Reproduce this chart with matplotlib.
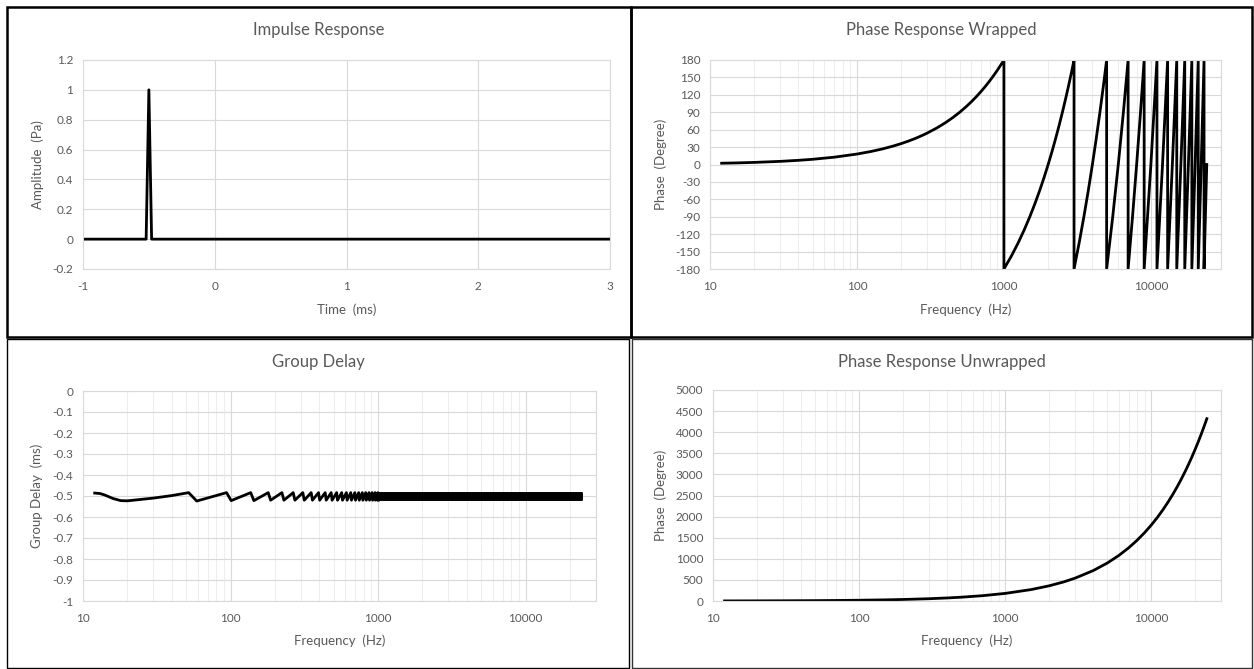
import matplotlib
matplotlib.use("Agg")
import matplotlib.pyplot as plt
from matplotlib.patches import Rectangle
from matplotlib.ticker import FixedLocator, NullFormatter, LogLocator, FuncFormatter

W, H = 1254, 669
DPI = 100

# ---------------- data ----------------
# Impulse response
ir_time = [-1.0, -0.5208, -0.5, -0.4792, 3.0]
ir_amp = [0.0, 0.0, 1.0, 0.0, 0.0]

# Phase response wrapped (frequency Hz, degrees)
pw_freq = [12, 15, 20, 30, 40, 50, 70, 100, 125, 150, 175, 200, 225, 250, 275, 300, 350, 400, 450,
           500, 550, 600, 650, 700, 750, 800, 850, 900, 950, 1000,
           1000, 1125, 1250, 1375, 1500, 1625, 1750, 1875, 2000, 2125, 2250, 2375, 2500, 2625,
           2750, 2875, 3000,
           3000, 3250, 3500, 3750, 4000, 4250, 4500, 4750, 5000,
           5000, 5500, 6000, 6500, 7000,
           7000, 7500, 8000, 8500, 9000,
           9000, 10000, 11000,
           11000, 12000, 13000,
           13000, 14000, 15000,
           15000, 16000, 17000,
           17000, 18000, 19000,
           19000, 20000, 21000,
           21000, 22000, 23000,
           23000, 24000]
pw_phase = [2.2, 2.7, 3.6, 5.4, 7.2, 9, 12.6, 18, 22.5, 27, 31.5, 36, 40.5, 45, 49.5, 54, 63, 72, 81,
            90, 99, 108, 117, 126, 135, 144, 153, 162, 171, 180,
            -180, -157.5, -135, -112.5, -90, -67.5, -45, -22.5, 0, 22.5, 45, 67.5, 90, 112.5,
            135, 157.5, 180,
            -180, -135, -90, -45, 0, 45, 90, 135, 180,
            -180, -90, 0, 90, 180,
            -180, -90, 0, 90, 180,
            -180, 0, 180,
            -180, 0, 180,
            -180, 0, 180,
            -180, 0, 180,
            -180, 0, 180,
            -180, 0, 180,
            -180, 0, 180,
            -180, 0]

# Phase response unwrapped
pu_freq = [12, 15, 20, 30, 40, 50, 70, 100, 150, 200, 300, 400, 500, 700, 1000, 1500, 2000, 2500,
           3000, 4000, 5000, 6000, 7000, 8000, 9000, 10000, 11000, 12000, 13000, 14000, 15000,
           16000, 17000, 18000, 19000, 20000, 21000, 22000, 23000, 24000]
pu_phase = [2.2, 2.7, 3.6, 5.4, 7.2, 9, 12.6, 18, 27, 36, 54, 72, 90, 126, 180, 270, 360, 450,
            540, 720, 900, 1080, 1260, 1440, 1620, 1800, 1980, 2160, 2340, 2520, 2700,
            2880, 3060, 3240, 3420, 3600, 3780, 3960, 4140, 4320]

# Group delay (ms): low-frequency part with visible zig-zag
gd_freq = [12, 13, 14, 16, 18, 20, 30, 40, 52,
           59, 94, 101, 137, 144, 180, 187, 223, 230, 266, 273, 309, 316, 352, 359,
           395, 402, 438, 445, 481, 488, 524, 531, 567, 574, 610, 617, 653, 660,
           696, 703, 739, 746, 782, 789, 825, 832, 868, 875, 911, 918, 954, 961, 997, 1004]
gd_delay = [-0.486, -0.488, -0.495, -0.512, -0.522, -0.523, -0.51, -0.498, -0.484,
            -0.524, -0.484, -0.522, -0.484, -0.522, -0.484, -0.52, -0.484, -0.52, -0.484, -0.52,
            -0.484, -0.52, -0.484, -0.52, -0.484, -0.52, -0.484, -0.52, -0.484, -0.52,
            -0.484, -0.52, -0.484, -0.52, -0.484, -0.52, -0.484, -0.52, -0.484, -0.52,
            -0.484, -0.52, -0.484, -0.52, -0.484, -0.52, -0.484, -0.52, -0.484, -0.52,
            -0.484, -0.52, -0.484, -0.52]
# Dense high-frequency zig-zag band (drawn as a band)
gd_band_freq = [950, 24000]
gd_band_top = [-0.486, -0.486]
gd_band_bottom = [-0.52, -0.52]

# ---------------- style ----------------
TXT = "#595959"
GRID = "#d9d9d9"
MINOR = "#eeeeee"
FONT = "Lato"
plt.rcParams["font.family"] = [FONT, "DejaVu Sans"]
plt.rcParams["axes.unicode_minus"] = False

fig = plt.figure(figsize=(W / DPI, H / DPI), dpi=DPI)
fig.patch.set_facecolor("white")


def fx(x):
    return x / W


def fy(y):
    return 1 - y / H


def make_ax(l, r, t, b):
    return fig.add_axes([fx(l), fy(b), fx(r) - fx(l), fy(t) - fy(b)])


def style(ax, title, xl, yl, panel, xlab_y, ylab_x, title_y):
    for s in ax.spines.values():
        s.set_color(GRID)
        s.set_linewidth(0.8)
    ax.tick_params(which="both", length=0, colors=TXT, labelsize=8.5)
    ax.tick_params(axis="x", pad=9)
    ax.tick_params(axis="y", pad=7)
    ax.set_axisbelow(True)
    pl, pr = panel
    bb = ax.get_position()
    fig.text(fx((pl + pr) / 2), fy(title_y), title, ha="center", va="center",
             fontsize=12, color=TXT)
    fig.text((bb.x0 + bb.x1) / 2, fy(xlab_y), xl, ha="center", va="center",
             fontsize=9.5, color=TXT)
    fig.text(fx(ylab_x), (bb.y0 + bb.y1) / 2, yl, ha="center", va="center",
             rotation=90, fontsize=9.5, color=TXT)


def log_axis(ax):
    ax.set_xscale("log")
    ax.set_xlim(10, 30000)
    ax.xaxis.set_major_locator(FixedLocator([10, 100, 1000, 10000]))
    ax.xaxis.set_major_formatter(FuncFormatter(lambda v, p: f"{int(round(v))}"))
    ax.xaxis.set_minor_locator(LogLocator(base=10, subs=range(2, 10), numticks=20))
    ax.xaxis.set_minor_formatter(NullFormatter())
    ax.grid(True, which="minor", axis="x", color=MINOR, lw=0.8)
    ax.grid(True, which="major", axis="x", color=GRID, lw=0.8)
    ax.grid(True, which="major", axis="y", color=GRID, lw=0.8)


LW = 2.0

# Impulse Response
ax1 = make_ax(83, 610, 60, 269)
ax1.plot(ir_time, ir_amp, color="black", lw=LW)
ax1.set_xlim(-1, 3)
ax1.set_ylim(-0.2, 1.2)
ax1.set_xticks([-1, 0, 1, 2, 3])
ax1.set_yticks([-0.2, 0, 0.2, 0.4, 0.6, 0.8, 1.0, 1.2])
ax1.set_yticklabels(["-0.2", "0", "0.2", "0.4", "0.6", "0.8", "1", "1.2"])
ax1.grid(True, color=GRID, lw=0.8)
style(ax1, "Impulse Response", "Time  (ms)", "Amplitude  (Pa)", (7, 631), 310, 38, 30)

# Phase Response Wrapped
ax2 = make_ax(710, 1221, 60, 269)
ax2.plot(pw_freq, pw_phase, color="black", lw=LW)
log_axis(ax2)
ax2.set_ylim(-180, 180)
ax2.set_yticks(list(range(-180, 181, 30)))
style(ax2, "Phase Response Wrapped", "Frequency  (Hz)", "Phase  (Degree)", (631, 1252), 310, 661, 30)

# Group Delay
ax3 = make_ax(83, 596, 391, 601)
ax3.plot(gd_freq, gd_delay, color="black", lw=LW)
ax3.fill_between(gd_band_freq, gd_band_bottom, gd_band_top, color="black", lw=1.4, edgecolor="black")
log_axis(ax3)
ax3.set_ylim(-1, 0)
yt = [round(-0.1 * i, 1) for i in range(11)]
ax3.set_yticks(yt)
ax3.set_yticklabels(["0" if v == 0 else ("-1" if v == -1 else f"{v:g}") for v in yt])
style(ax3, "Group Delay", "Frequency  (Hz)", "Group Delay  (ms)", (7, 630), 641, 37, 362)

# Phase Response Unwrapped
ax4 = make_ax(713, 1221, 390, 601)
ax4.plot(pu_freq, pu_phase, color="black", lw=LW)
log_axis(ax4)
ax4.set_ylim(0, 5000)
ax4.set_yticks(list(range(0, 5001, 500)))
style(ax4, "Phase Response Unwrapped", "Frequency  (Hz)", "Phase  (Degree)", (631, 1252), 641, 661, 362)

# Panel borders
def border(x0, y0, x1, y1, lw, color="black"):
    fig.add_artist(Rectangle((fx(x0), fy(y1)), fx(x1) - fx(x0), fy(y0) - fy(y1),
                             transform=fig.transFigure, fill=False, lw=lw, edgecolor=color))

border(7, 7, 631, 336.5, 1.8)
border(631, 7, 1252, 336.5, 1.8)
border(7, 339, 629.5, 667.5, 1.0)
border(631.5, 339, 1252, 667.5, 1.0, "#333333")

fig.savefig("out.png", dpi=DPI, facecolor="white")
